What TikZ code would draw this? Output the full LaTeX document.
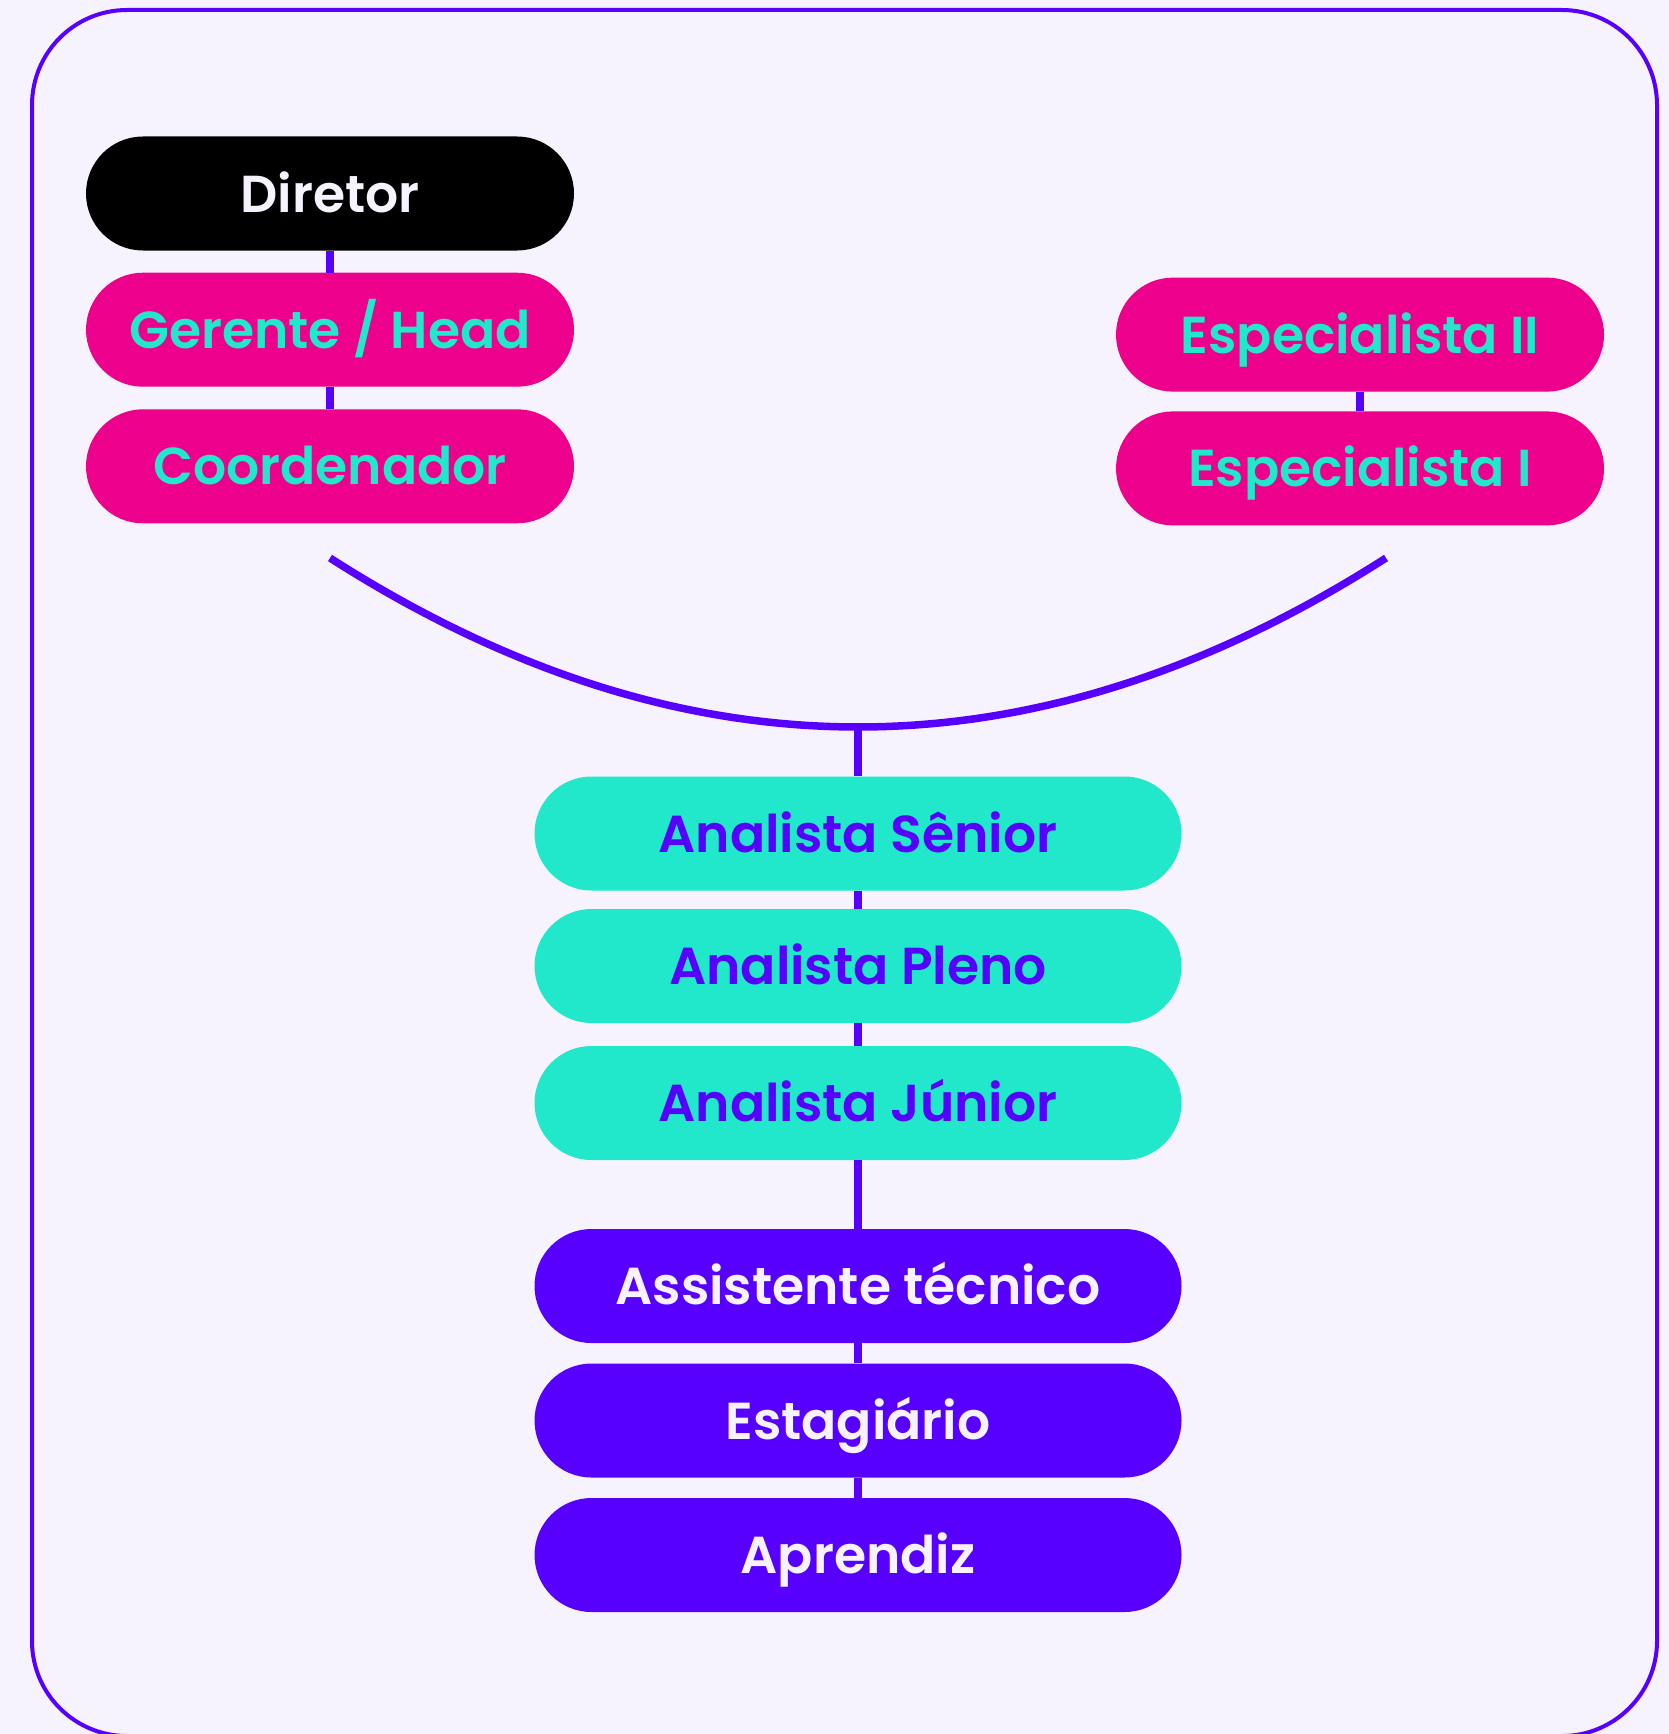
\documentclass[tikz,border=0pt]{standalone}
\usepackage{fontspec}
\setmainfont{Poppins}[BoldFont={* SemiBold}]
\usetikzlibrary{shapes.misc}
\definecolor{bgc}{HTML}{F6F3FE}
\definecolor{purp}{HTML}{5800FF}
\definecolor{pink}{HTML}{EC008C}
\definecolor{teal}{HTML}{22E8CB}
\definecolor{lite}{HTML}{F6F3FE}
\tikzset{
  pill/.style={rounded rectangle, inner sep=0pt, minimum height=114pt,
    text height=37pt, text depth=0pt, font=\fontsize{52}{60}\selectfont\bfseries},
  narrow/.style={pill, minimum width=488pt},
  wide/.style={pill, minimum width=647pt},
  blackpill/.style={fill=black, text=lite},
  pinkpill/.style={fill=pink, text=teal},
  tealpill/.style={fill=teal, text=purp},
  purppill/.style={fill=purp, text=lite},
  conn/.style={draw=purp, line width=7.5pt},
  frame/.style={draw=purp, line width=4pt, rounded corners=95pt}
}
\begin{document}
\begin{tikzpicture}[x=1pt,y=-1pt]
\useasboundingbox (0,0) rectangle (1669,1734);
\fill[bgc] (0,0) rectangle (1669,1734);
\draw[frame] (32,10) rectangle (1657,1736);

% left column
\node[narrow,blackpill] (dir) at (330,193.5) {Diretor};
\node[narrow,pinkpill] (ger) at (330,329.7) {Gerente / Head};
\node[narrow,pinkpill] (coo) at (330,466.3) {Coordenador};
% right column
\node[narrow,pinkpill] (e2) at (1360,334.6) {Especialista II};
\node[narrow,pinkpill] (e1) at (1360,468.4) {Especialista I};
% central column
\node[wide,tealpill] (sen) at (858,833.5) {Analista Sênior};
\node[wide,tealpill] (ple) at (858,966) {Analista Pleno};
\node[wide,tealpill] (jun) at (858,1103) {Analista Júnior};
\node[wide,purppill] (ass) at (858,1286) {Assistente técnico};
\node[wide,purppill] (est) at (858,1420.5) {Estagiário};
\node[wide,purppill] (apr) at (858,1555) {Aprendiz};

\coordinate (cl) at (330,558);
\coordinate (cr) at (1386,558);
\coordinate (cb) at (858,727);

\draw[conn] (dir.south) -- (ger.north);
\draw[conn] (ger.south) -- (coo.north);
\draw[conn] (e2.south) -- (e1.north);
\draw[conn] (cl) .. controls (682,783.3) and (1034,783.3) .. (cr);
\draw[conn] (cb) -- (sen.north);
\draw[conn] (sen.south) -- (ple.north);
\draw[conn] (ple.south) -- (jun.north);
\draw[conn] (jun.south) -- (ass.north);
\draw[conn] (ass.south) -- (est.north);
\draw[conn] (est.south) -- (apr.north);
\end{tikzpicture}
\end{document}
